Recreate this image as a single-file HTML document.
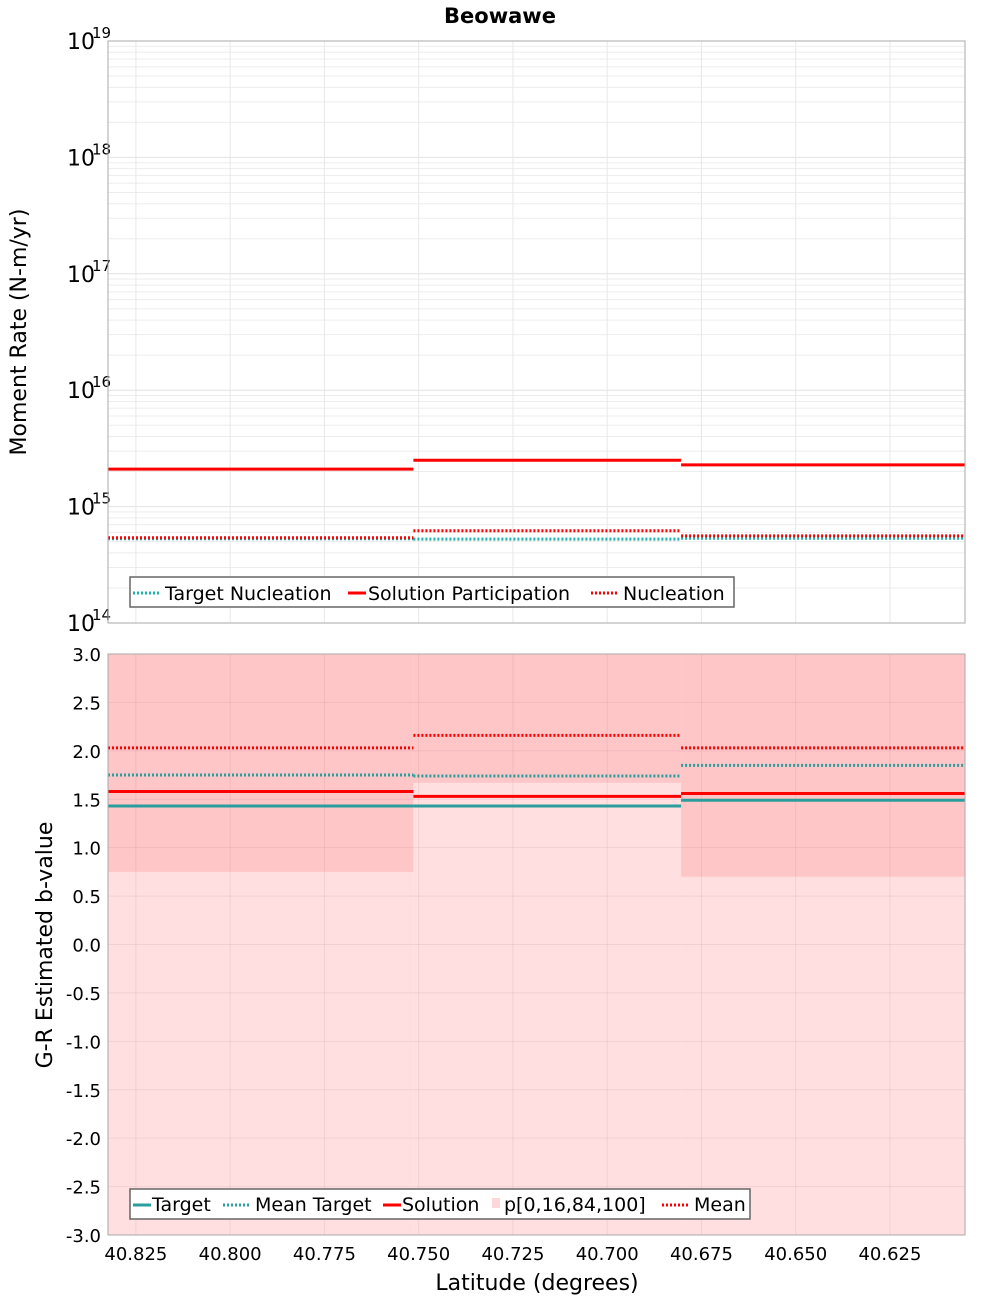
<!DOCTYPE html>
<html><head><meta charset="utf-8"><style>
body{margin:0;background:#fff}
svg{display:block;font-family:"DejaVu Sans","Liberation Sans",sans-serif}
</style></head><body>
<svg id="chart" width="1000" height="1300" xmlns="http://www.w3.org/2000/svg">
<text x="500" y="23" text-anchor="middle" font-size="21" font-weight="bold">Beowawe</text>
<g id="topg"></g>
<g id="botg"></g>
</svg>
<script>
// bin edges (latitude, degrees)
const binEdges = [40.8324, 40.7514, 40.6804, 40.6051];
const xTicks = [40.825, 40.800, 40.775, 40.750, 40.725, 40.700, 40.675, 40.650, 40.625];
// top panel values (N-m/yr)
const solutionParticipation = [2.1e15, 2.5e15, 2.28e15];
const nucleation = [5.4e14, 6.2e14, 5.6e14];
const targetNucleation = [5.3e14, 5.25e14, 5.35e14];
const logTicks = [14, 15, 16, 17, 18, 19];
// bottom panel values (b-value)
const target = [1.43, 1.43, 1.49];
const meanTarget = [1.75, 1.74, 1.85];
const solution = [1.58, 1.53, 1.56];
const mean = [2.03, 2.16, 2.03];
const p0 = [-3, -3, -3];
const p16 = [0.75, 1.67, 0.70];
const p84 = [3, 3, 3];
const p100 = [3, 3, 3];
const bTicks = [-3.0,-2.5,-2.0,-1.5,-1.0,-0.5,0.0,0.5,1.0,1.5,2.0,2.5,3.0];

const NS='http://www.w3.org/2000/svg';
const L=108,R=965;
const X=v=>L+(binEdges[0]-v)/(binEdges[0]-binEdges[3])*(R-L);
const T0=41,T1=623; const YT=v=>T1-(Math.log10(v)-14)/5*(T1-T0);
const B0=654,B1=1235; const YB=v=>B1-(v+3)/6*(B1-B0);
function mk(p,tag,a,txt){const e=document.createElementNS(NS,tag);for(const k in a)e.setAttribute(k,a[k]);if(txt!==undefined)e.textContent=txt;p.appendChild(e);return e;}
const topG=document.getElementById('topg'),botG=document.getElementById('botg');

// ---- top panel
let r=mk(topG,'rect',{x:L,y:T0,width:R-L,height:T1-T0,fill:'#fff'});


for(let d=14;d<19;d++)for(let m=1;m<10;m++){const y=YT(m*Math.pow(10,d));
 let g=mk(topG,'line',{x1:L,x2:R,y1:y,y2:y,stroke:m==1?'#e2e2e2':'#ededed','stroke-width':1});
 
 }
xTicks.forEach(t=>{let g=mk(topG,'line',{x1:X(t),x2:X(t),y1:T0,y2:T1,stroke:'#e8e8e8'});
 
 });
logTicks.forEach(d=>{const y=YT(Math.pow(10,d));
 let t=mk(topG,'text',{x:95,y:y+8,'text-anchor':'end','font-size':22},'10');
 
 
 let s=mk(topG,'text',{x:92,y:y-3,'font-size':15},String(d));
 
 });
function steps(p,arr,Y,color,w,dash,name){for(let i=0;i<arr.length;i++){
 const a={x1:X(binEdges[i]),x2:X(binEdges[i+1]),y1:Y(arr[i]),y2:Y(arr[i]),stroke:color,'stroke-width':w};
 if(dash)a['stroke-dasharray']=dash;const e=mk(p,'line',a);
 
 }}
steps(topG,targetNucleation,YT,'#1fb0b0',3,'2,2','target-nucleation-line');
steps(topG,nucleation,YT,'#ff0000',3,'2,2','nucleation-line');
steps(topG,solutionParticipation,YT,'#ff0000',3,null,'solution-participation-line');
r=mk(topG,'rect',{x:L,y:T0,width:R-L,height:T1-T0,fill:'none',stroke:'#aaa'});


let yt=mk(topG,'text',{x:0,y:0,transform:'translate(26,332) rotate(-90)','text-anchor':'middle','font-size':22},'Moment Rate (N-m/yr)');


// top legend
let lg=mk(topG,'g',{});


mk(lg,'rect',{x:130,y:577,width:604,height:30,fill:'#fff',stroke:'#666','stroke-width':1.5});
[[133,'#1fb0b0','2,2',165,'Target Nucleation'],[348,'#ff0000',null,368,'Solution Participation'],[591,'#ff0000','2,2',623,'Nucleation']].forEach(e=>{
 const a={x1:e[0],x2:e[0]+28,y1:593,y2:593,stroke:e[1],'stroke-width':3};if(e[2])a['stroke-dasharray']=e[2];
 if(!e[2]){a.x2=e[0]+18;}mk(lg,'line',a);
 let t=mk(lg,'text',{x:e[3],y:600,'font-size':19},e[4]);
 
 });

// ---- bottom panel
r=mk(botG,'rect',{x:L,y:B0,width:R-L,height:B1-B0,fill:'#fff'});


for(let i=0;i<3;i++){const x1=X(binEdges[i]),x2=X(binEdges[i+1]);
 let b=mk(botG,'rect',{x:x1,y:YB(p100[i]),width:x2-x1,height:YB(p0[i])-YB(p100[i]),fill:'#ffdfe0'});
 
 
 let c=mk(botG,'rect',{x:x1,y:YB(p84[i]),width:x2-x1,height:YB(p16[i])-YB(p84[i]),fill:'#ffc6c8'});
 
 }
bTicks.forEach(v=>{const y=YB(v);let g=mk(botG,'line',{x1:L,x2:R,y1:y,y2:y,stroke:'rgba(0,0,0,0.06)'});
 
 
 let t=mk(botG,'text',{x:101,y:y+7,'text-anchor':'end','font-size':18},v.toFixed(1));
 
 });
xTicks.forEach(v=>{const x=X(v);let g=mk(botG,'line',{x1:x,x2:x,y1:B0,y2:B1,stroke:'rgba(0,0,0,0.06)'});
 
 
 let t=mk(botG,'text',{x:x,y:1260,'text-anchor':'middle','font-size':18},v.toFixed(3));
 
 });
steps(botG,mean,YB,'#ff0000',3,'2,2','mean-line');
steps(botG,meanTarget,YB,'#2a9d9d',3,'2,2','mean-target-line');
steps(botG,solution,YB,'#ff0000',3,null,'solution-line');
steps(botG,target,YB,'#2a9d9d',3,null,'target-line');
r=mk(botG,'rect',{x:L,y:B0,width:R-L,height:B1-B0,fill:'none',stroke:'#aaa'});


yt=mk(botG,'text',{x:0,y:0,transform:'translate(52,945) rotate(-90)','text-anchor':'middle','font-size':22},'G-R Estimated b-value');


let xt=mk(botG,'text',{x:537,y:1290,'text-anchor':'middle','font-size':22},'Latitude (degrees)');


lg=mk(botG,'g',{});


mk(lg,'rect',{x:130,y:1189,width:620,height:30,fill:'#fff',stroke:'#666','stroke-width':1.5});
[[133,'#2a9d9d',null,152,'Target'],[223,'#2a9d9d','2,2',255,'Mean Target'],[383,'#ff0000',null,402,'Solution'],[490,'band',null,504,'p[0,16,84,100]'],[662,'#ff0000','2,2',694,'Mean']].forEach(e=>{
 if(e[1]=='band'){mk(lg,'rect',{x:492,y:1198,width:8,height:10,fill:'#ffd6d8'});}
 else{const a={x1:e[0],x2:e[0]+(e[2]?28:18),y1:1205,y2:1205,stroke:e[1],'stroke-width':3};if(e[2])a['stroke-dasharray']=e[2];mk(lg,'line',a);}
 let t=mk(lg,'text',{x:e[3],y:1211,'font-size':19},e[4]);
 
 });
</script>
</body></html>
